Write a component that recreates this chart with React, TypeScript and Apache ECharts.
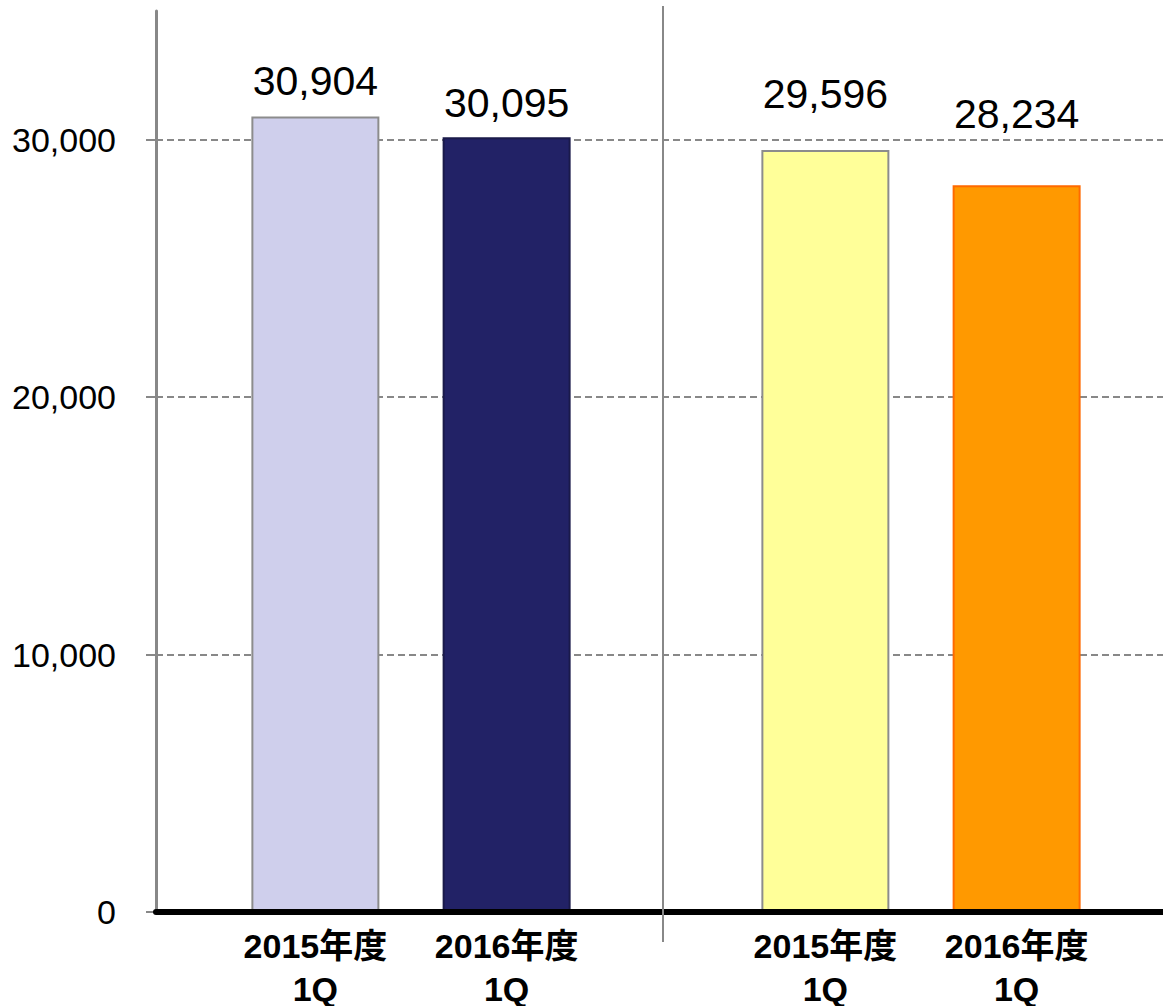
import React, { useEffect, useRef } from "react";
import * as echarts from "echarts";

// ---- data ----
const categories = ["2015年度\n1Q", "2016年度\n1Q", "2015年度\n1Q", "2016年度\n1Q"];
const values = [30904, 30095, 29596, 28234];
const yTicks = [0, 10000, 20000, 30000];

// ---- layout / style (not data) ----
const SLOT_COUNT = 16;
const slotOfBar = [2, 5, 10, 13];
const barFill = ["#CFCFEC", "#222266", "#FFFF99", "#FF9900"];
const barBorder = ["#8C8C8C", "#1A1A4A", "#8C8C8C", "#FF6A00"];
const labelGap = [15, 14, 36, 51];

const FONT = '"Liberation Sans", Arial, "Noto Sans CJK JP", sans-serif';

export default function App() {
  const ref = useRef<HTMLDivElement>(null);

  useEffect(() => {
    if (!ref.current) return;
    const chart = echarts.init(ref.current, null, { renderer: "svg" });

    const slotLabels: string[] = Array.from({ length: SLOT_COUNT }, () => "");
    const slotData: any[] = Array.from({ length: SLOT_COUNT }, () => "-");
    slotOfBar.forEach((s, i) => {
      slotLabels[s] = categories[i];
      slotData[s] = {
        value: values[i],
        itemStyle: { color: barFill[i], borderColor: barBorder[i], borderWidth: 2 },
        label: { distance: labelGap[i] },
      };
    });

    chart.setOption({
      animation: false,
      textStyle: { fontFamily: FONT },
      grid: {
        left: 156,
        top: 11,
        width: 1020,
        height: 901,
        containLabel: false,
        outerBoundsMode: "none",
      },
      xAxis: {
        type: "category",
        data: slotLabels.map((_, i) => "slot" + i),
        axisLine: { show: true, lineStyle: { color: "#000000", width: 6 } },
        axisTick: { show: false },
        splitLine: { show: false },
        axisLabel: {
          interval: 0,
          formatter: (_v: string, idx: number) => slotLabels[idx],
          color: "#000000",
          fontFamily: FONT,
          fontSize: 34,
          fontWeight: "bold",
          lineHeight: 43,
          margin: 12,
        },
        z: 5,
      },
      yAxis: {
        type: "value",
        min: 0,
        max: 35000,
        interval: 10000,
        axisLine: { show: true, lineStyle: { color: "#888888", width: 3 } },
        axisTick: {
          show: true,
          length: 10,
          lineStyle: { color: "#888888", width: 2 },
          customValues: yTicks,
        },
        axisLabel: {
          customValues: yTicks,
          color: "#000000",
          fontFamily: FONT,
          fontSize: 34,
          margin: 40,
          formatter: (v: number) => v.toLocaleString("en-US"),
        },
        splitLine: {
          show: true,
          lineStyle: { color: "#888888", width: 2, type: [7, 4] },
        },
      },
      graphic: [
        {
          type: "line",
          shape: { x1: 663, y1: 6, x2: 663, y2: 942 },
          style: { stroke: "#888888", lineWidth: 2 },
          z: 10,
        },
      ],
      series: [
        {
          type: "bar",
          data: slotData,
          barWidth: 128,
          label: {
            show: true,
            position: "top",
            color: "#000000",
            fontFamily: FONT,
            fontSize: 41,
            formatter: (p: any) => Number(p.value).toLocaleString("en-US"),
          },
        },
      ],
    });

    return () => chart.dispose();
  }, []);

  return (
    <div
      ref={ref}
      style={{ position: "absolute", left: 0, top: 0, width: 1163, height: 1006 }}
    />
  );
}
